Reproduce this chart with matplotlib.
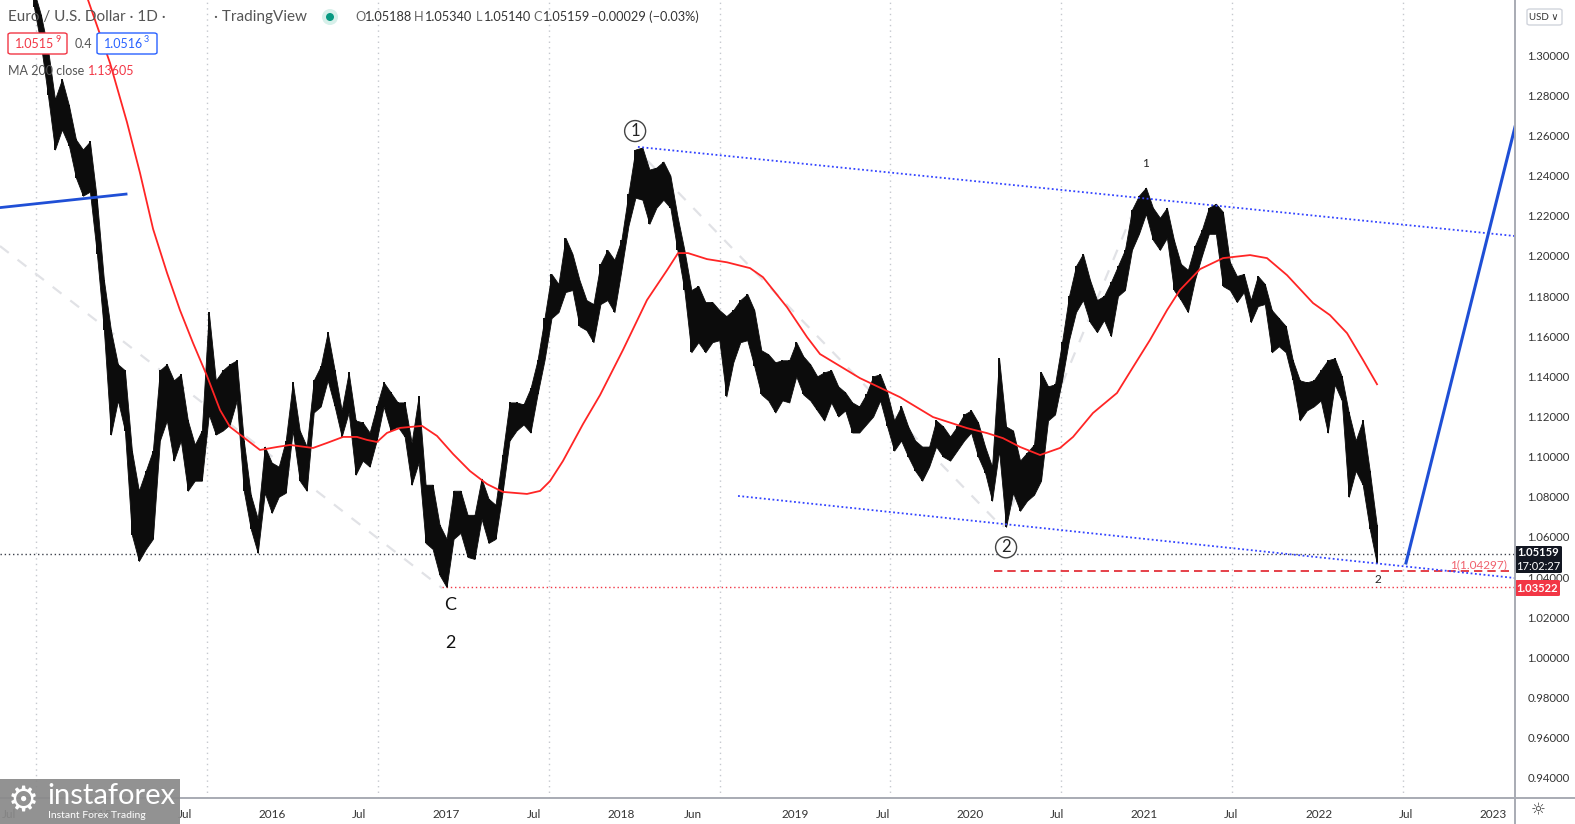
"""EUR/USD daily chart with MA 200 and wave count, redrawn from a TradingView screenshot."""

import numpy as np
import matplotlib

matplotlib.use("Agg")
import matplotlib.pyplot as plt
from matplotlib.lines import Line2D
from matplotlib.patches import FancyBboxPatch, Rectangle, Ellipse

W, H = 1575, 824

# Price ranges, one bar about every two weeks
t_start = 2014.634
t_step = 0.0401
high = [
    1.332, 1.320, 1.303, 1.278, 1.288, 1.275, 1.258, 1.253, 1.257, 1.228,
    1.188, 1.163, 1.146, 1.143, 1.103, 1.083, 1.093, 1.103, 1.143, 1.146,
    1.138, 1.141, 1.118, 1.106, 1.113, 1.172, 1.138, 1.143, 1.146, 1.148,
    1.108, 1.081, 1.069, 1.105, 1.097, 1.095, 1.108, 1.137, 1.113, 1.105,
    1.138, 1.145, 1.162, 1.143, 1.123, 1.142, 1.118, 1.117, 1.112, 1.125,
    1.137, 1.132, 1.127, 1.127, 1.107, 1.130, 1.086, 1.086, 1.066, 1.059,
    1.083, 1.083, 1.071, 1.071, 1.089, 1.079, 1.076, 1.101, 1.127, 1.127,
    1.126, 1.134, 1.148, 1.169, 1.191, 1.186, 1.209, 1.201, 1.188, 1.178,
    1.176, 1.196, 1.203, 1.198, 1.208, 1.231, 1.253, 1.254, 1.243, 1.244,
    1.247, 1.240, 1.220, 1.203, 1.183, 1.185, 1.177, 1.177, 1.173, 1.170,
    1.173, 1.178, 1.181, 1.173, 1.153, 1.151, 1.147, 1.148, 1.148, 1.157,
    1.150, 1.146, 1.140, 1.142, 1.143, 1.135, 1.132, 1.127, 1.125, 1.131,
    1.140, 1.141, 1.132, 1.118, 1.125, 1.115, 1.108, 1.105, 1.105, 1.118,
    1.115, 1.110, 1.115, 1.121, 1.123, 1.117, 1.105, 1.095, 1.149, 1.115,
    1.113, 1.098, 1.102, 1.106, 1.142, 1.135, 1.136, 1.157, 1.180, 1.195,
    1.201, 1.188, 1.178, 1.180, 1.187, 1.195, 1.203, 1.223, 1.230, 1.234,
    1.224, 1.219, 1.224, 1.208, 1.196, 1.193, 1.205, 1.213, 1.224, 1.226,
    1.222, 1.197, 1.190, 1.191, 1.178, 1.190, 1.186, 1.173, 1.169, 1.165,
    1.148, 1.138, 1.137, 1.138, 1.143, 1.148, 1.149, 1.140, 1.122, 1.108,
    1.118, 1.093, 1.066,
]
low = [
    1.324, 1.305, 1.280, 1.253, 1.263, 1.255, 1.239, 1.230, 1.232, 1.201,
    1.163, 1.111, 1.128, 1.113, 1.061, 1.048, 1.054, 1.059, 1.108, 1.118,
    1.098, 1.108, 1.083, 1.088, 1.088, 1.121, 1.111, 1.113, 1.116, 1.128,
    1.083, 1.064, 1.052, 1.082, 1.072, 1.080, 1.082, 1.113, 1.088, 1.083,
    1.122, 1.125, 1.138, 1.125, 1.110, 1.122, 1.091, 1.098, 1.095, 1.108,
    1.125, 1.113, 1.115, 1.110, 1.086, 1.097, 1.057, 1.054, 1.041, 1.035,
    1.059, 1.062, 1.050, 1.049, 1.069, 1.057, 1.059, 1.082, 1.108, 1.113,
    1.116, 1.112, 1.131, 1.148, 1.169, 1.172, 1.182, 1.183, 1.165, 1.163,
    1.157, 1.176, 1.178, 1.172, 1.193, 1.215, 1.229, 1.228, 1.216, 1.224,
    1.228, 1.224, 1.203, 1.183, 1.152, 1.157, 1.152, 1.157, 1.158, 1.130,
    1.147, 1.157, 1.158, 1.145, 1.131, 1.128, 1.122, 1.128, 1.127, 1.140,
    1.131, 1.128, 1.123, 1.118, 1.127, 1.120, 1.123, 1.112, 1.112, 1.116,
    1.120, 1.128, 1.115, 1.103, 1.108, 1.100, 1.093, 1.088, 1.095, 1.105,
    1.100, 1.098, 1.103, 1.108, 1.112, 1.100, 1.092, 1.078, 1.103, 1.065,
    1.082, 1.073, 1.078, 1.081, 1.088, 1.118, 1.121, 1.138, 1.158, 1.172,
    1.178, 1.167, 1.162, 1.168, 1.160, 1.180, 1.183, 1.203, 1.211, 1.221,
    1.208, 1.203, 1.209, 1.183, 1.178, 1.172, 1.188, 1.200, 1.211, 1.211,
    1.185, 1.183, 1.177, 1.182, 1.167, 1.175, 1.176, 1.152, 1.155, 1.152,
    1.138, 1.118, 1.123, 1.125, 1.128, 1.112, 1.136, 1.128, 1.080, 1.093,
    1.086, 1.064, 1.047,
]

# MA 200 (close)
ma_year = [
    2014.898, 2014.944, 2015.070, 2015.167, 2015.242, 2015.317, 2015.397,
    2015.471, 2015.546, 2015.626, 2015.701, 2015.758, 2015.833, 2015.930,
    2016.028, 2016.102, 2016.234, 2016.314, 2016.406, 2016.486, 2016.544,
    2016.601, 2016.658, 2016.733, 2016.859, 2016.945, 2017.037, 2017.134,
    2017.232, 2017.323, 2017.461, 2017.536, 2017.593, 2017.667, 2017.782,
    2017.880, 2018.011, 2018.149, 2018.264, 2018.327, 2018.384, 2018.493,
    2018.608, 2018.740, 2018.814, 2018.952, 2019.067, 2019.141, 2019.370,
    2019.600, 2019.789, 2019.984, 2020.099, 2020.190, 2020.288, 2020.403,
    2020.517, 2020.592, 2020.706, 2020.844, 2020.936, 2021.033, 2021.131,
    2021.205, 2021.320, 2021.452, 2021.607, 2021.704, 2021.819, 2021.968,
    2022.065, 2022.163, 2022.255, 2022.335,
]
ma_value = [
    1.3400, 1.3275, 1.2961, 1.2667, 1.2413, 1.2134, 1.1915,
    1.1730, 1.1566, 1.1402, 1.1232, 1.1148, 1.1098, 1.1033,
    1.1048, 1.1058, 1.1043, 1.1068, 1.1098, 1.1098, 1.1083,
    1.1073, 1.1118, 1.1143, 1.1153, 1.1103, 1.1013, 1.0928,
    1.0863, 1.0824, 1.0814, 1.0829, 1.0878, 1.0978, 1.1162,
    1.1307, 1.1531, 1.1780, 1.1929, 1.2014, 1.2014, 1.1984,
    1.1968, 1.1939, 1.1894, 1.1744, 1.1595, 1.1511, 1.1391,
    1.1296, 1.1197, 1.1142, 1.1117, 1.1092, 1.1048, 1.1008,
    1.1043, 1.1098, 1.1217, 1.1317, 1.1446, 1.1581, 1.1730,
    1.1830, 1.1934, 1.1989, 1.2004, 1.1989, 1.1904, 1.1765,
    1.1705, 1.1615, 1.1481, 1.13605,
]

# axis labels
tick_years = [2014.49, 2015.0, 2015.5, 2016.0, 2016.5, 2017.0, 2017.5, 2018.0,
              2018.41, 2019.0, 2019.5, 2020.0, 2020.5, 2021.0, 2021.5, 2022.0,
              2022.5, 2023.0]
tick_labels = ["Jul", "2015", "Jul", "2016", "Jul", "2017", "Jul", "2018",
               "Jun", "2019", "Jul", "2020", "Jul", "2021", "Jul", "2022",
               "Jul", "2023"]
grid_years = [2014.646, 2015.626, 2016.606, 2017.587, 2018.567, 2019.542,
              2020.523, 2021.503, 2022.484]
price_ticks = [0.94, 0.96, 0.98, 1.00, 1.02, 1.04, 1.06, 1.08, 1.10, 1.12,
               1.14, 1.16, 1.18, 1.20, 1.22, 1.24, 1.26, 1.28, 1.30]

last_close = 1.05159
low_2017 = 1.03522
target_1 = 1.04297

# drawings on the chart: (years, prices)
upper_channel = ([2018.097, 2023.126], [1.2543, 1.2099])
lower_channel = ([2018.671, 2023.126], [1.0804, 1.0395])
old_trend = ([2014.40, 2015.162], [1.2237, 1.2308])
projection = ([2022.501, 2023.126], [1.0470, 1.2642])
faint_lines = [
    ([2014.439, 2016.974], [1.2049, 1.0345]),
    ([2018.149, 2020.174], [1.2477, 1.0659]),
    ([2020.190, 2020.976], [1.0649, 1.2303]),
]

XMIN, XMAX = 2014.4392, 2023.1261
YMIN, YMAX = 0.9299, 1.3275


def fx(x):
    return x / W


def fy(y):
    return 1 - y / H


def fig_box(fig, x0, y0, x1, y1, fc, ec, lw=1.0, rad=3, alpha=1.0):
    """Rounded box given in pixel corners (top-left origin)."""
    box = FancyBboxPatch(
        (fx(x0), fy(y1)), fx(x1 - x0), (y1 - y0) / H,
        boxstyle=f"round,pad=0,rounding_size={rad / W}",
        transform=fig.transFigure, fc=fc, ec=ec, lw=lw, alpha=alpha,
    )
    fig.add_artist(box)


plt.rcParams["font.family"] = ["Lato", "DejaVu Sans"]

fig = plt.figure(figsize=(W / 100, H / 100), dpi=100)
ax = fig.add_axes([0, 1 - 798 / H, 1515 / W, 798 / H])
ax.set_xlim(XMIN, XMAX)
ax.set_ylim(YMIN, YMAX)
for s in ax.spines.values():
    s.set_visible(False)

for g in grid_years:
    ax.axvline(g, color="#c5c8ce", lw=1, ls=(0, (1, 3)), zorder=0)

for xs, ys in faint_lines:
    ax.plot(xs, ys, color="#e1e2e6", lw=1.6, ls=(0, (5, 5)), zorder=1)

# price bars: high-low ranges drawn as a solid band with spikes
t = t_start + t_step * np.arange(len(high))
ax.fill_between(t, low, high, color="#0c0c0c", lw=0.6, zorder=3)
ax.vlines(t, low, high, color="#0c0c0c", lw=1.4, zorder=3)

ax.plot(ma_year, ma_value, color="#ff2525", lw=1.3, zorder=4)

ax.axhline(last_close, color="#3b3f4a", lw=1, ls=(0, (1, 2)), zorder=2)
ax.hlines(low_2017, 2016.974, XMAX, color="#f23645", lw=1, ls=(0, (1, 2)), zorder=2)
ax.hlines(target_1, 2020.140, XMAX, color="#e0202a", lw=1.2, ls=(0, (5, 3)), zorder=2)
ax.text(2023.081, 1.0462, "1(1.04297)", color="#f0606c", fontsize=8.5,
        ha="right", va="center", zorder=6)

ax.plot(*upper_channel, color="#3344ff", lw=1.3, ls=(0, (1, 1.4)), zorder=5)
ax.plot(*lower_channel, color="#3344ff", lw=1.3, ls=(0, (1, 1.4)), zorder=5)
ax.plot(*old_trend, color="#1f4fd6", lw=2, zorder=5)
ax.plot(*projection, color="#1f4fd6", lw=2.2, zorder=5)

# wave labels
circ = dict(boxstyle="circle,pad=0.15", fc="white", ec="#444", lw=1)
ax.text(2018.081, 1.2622, "1", fontsize=12, ha="center", va="center",
        color="#222", bbox=circ, zorder=7)
ax.text(2020.208, 1.0548, "2", fontsize=12, ha="center", va="center",
        color="#222", bbox=circ, zorder=7)
ax.text(2021.010, 1.2462, "1", fontsize=8.5, ha="center", va="center", color="#222")
ax.text(2022.341, 1.0386, "2", fontsize=8.5, ha="center", va="center", color="#222")
ax.text(2017.019, 1.0262, "C", fontsize=13, ha="center", va="center", color="#111")
ax.text(2017.019, 1.0073, "2", fontsize=13, ha="center", va="center", color="#111")

# axes ticks
ax.yaxis.tick_right()
ax.set_yticks(price_ticks, [f"{v:.5f}" for v in price_ticks])
ax.set_xticks(tick_years, tick_labels)
ax.tick_params(axis="y", length=0, pad=9, labelsize=8.2, labelcolor="#333")
ax.tick_params(axis="x", length=0, pad=8, labelsize=8.5, labelcolor="#333")

# panel separators
fig.add_artist(Line2D([fx(1515)] * 2, [0, 1], color="#a8abb3", lw=1.4))
fig.add_artist(Line2D([0, 1], [fy(798)] * 2, color="#a8abb3", lw=1.4))

# legend rows
fig.text(fx(8), fy(17), "Euro / U.S. Dollar · 1D ·", fontsize=11, color="#555", va="center")
fig.text(fx(214), fy(17), "· TradingView", fontsize=11, color="#555", va="center")
fig.add_artist(Ellipse((fx(330), fy(17)), 16 / W, 16 / H, transform=fig.transFigure,
                       fc="#d7f0ea", ec="none"))
fig.add_artist(Ellipse((fx(330), fy(17)), 8 / W, 8 / H, transform=fig.transFigure,
                       fc="#089981", ec="none"))
ohlc = [(355, "O", "#666"), (364, "1.05188", "#333"), (414, "H", "#666"),
        (424, "1.05340", "#333"), (476, "L", "#666"), (483, "1.05140", "#333"),
        (533, "C", "#666"), (542, "1.05159", "#333"),
        (591, "\u22120.00029 (\u22120.03%)", "#333")]
for x, s, c in ohlc:
    fig.text(fx(x), fy(17), s, fontsize=9.2, color=c, va="center")

fig_box(fig, 8, 33, 67, 54, "white", "#f23645")
fig.text(fx(15), fy(44), "1.0515", fontsize=9, color="#f23645", va="center")
fig.text(fx(55), fy(40), "9", fontsize=6.5, color="#f23645", va="center")
fig.text(fx(75), fy(44), "0.4", fontsize=9, color="#555", va="center")
fig_box(fig, 97, 33, 157, 54, "white", "#2962ff")
fig.text(fx(104), fy(44), "1.0516", fontsize=9, color="#2962ff", va="center")
fig.text(fx(144), fy(40), "3", fontsize=6.5, color="#2962ff", va="center")
fig.text(fx(8), fy(71), "MA 200 close", fontsize=9, color="#555", va="center")
fig.text(fx(88), fy(71), "1.13605", fontsize=9, color="#f23645", va="center")

# price badges on the scale
fig_box(fig, 1515, 546, 1562, 573, "#131722", "none", rad=2)
fig.text(fx(1538), fy(553), "1.05159", fontsize=8, color="white", weight="bold",
         ha="center", va="center")
fig.text(fx(1538), fy(566), "17:02:27", fontsize=8, color="white",
         ha="center", va="center")
fig_box(fig, 1515, 580, 1560, 596, "#f23645", "none", rad=2)
fig.text(fx(1537), fy(588), "1.03522", fontsize=8, color="white", weight="bold",
         ha="center", va="center")

fig_box(fig, 1527, 9, 1562, 25, "white", "#d1d4dc", rad=3)
fig.text(fx(1544), fy(17), "USD \u2228", fontsize=7, color="#333",
         ha="center", va="center")
fig.text(fx(1538), fy(810), "\u263c", family=["DejaVu Sans"], fontsize=12,
         color="#444", ha="center", va="center")

# watermark
fig.add_artist(Rectangle((0, 0), fx(180), 45 / H, transform=fig.transFigure,
                         fc="#8a8a8a", ec="none", alpha=0.93, zorder=5))
fig.text(fx(23), fy(801), "\u2699", family=["DejaVu Sans"], fontsize=25,
         color="white", ha="center", va="center", zorder=6)
fig.text(fx(47), fy(796), "instaforex", fontsize=21, color="white",
         va="center", zorder=6)
fig.text(fx(48), fy(815), "Instant Forex Trading", fontsize=7.5, color="white",
         va="center", zorder=6)

fig.savefig("out.png", dpi=100, facecolor="white")
